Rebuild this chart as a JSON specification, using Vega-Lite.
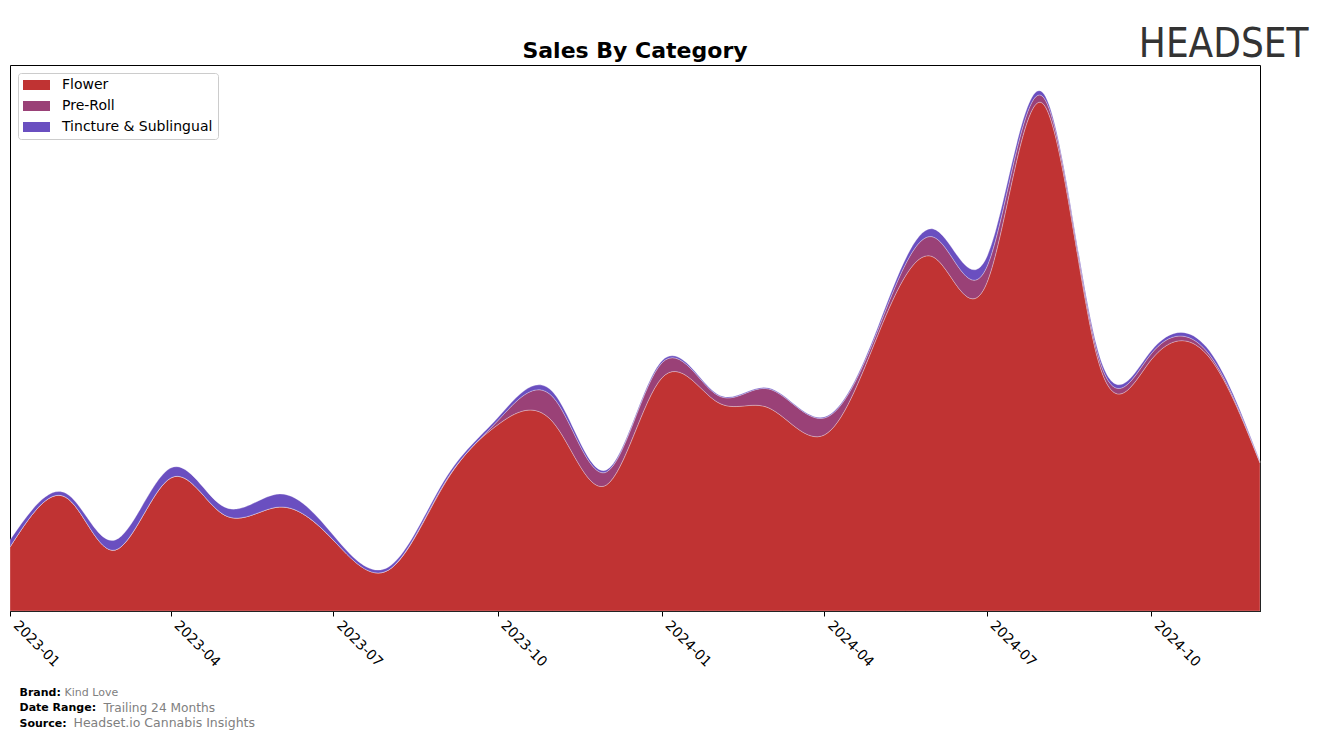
{
  "$schema": "https://vega.github.io/schema/vega-lite/v6.json",
  "autosize": {"type": "none"},
  "width": 1250,
  "height": 546,
  "padding": {"left": 10, "top": 65, "right": 64, "bottom": 128},
  "background": "white",
  "config": {
    "font": "DejaVu Sans",
    "view": {"stroke": "black", "strokeWidth": 1}
  },
  "title": {
    "text": "Sales By Category",
    "fontSize": 22,
    "fontWeight": "bold",
    "font": "DejaVu Sans",
    "anchor": "middle",
    "frame": "group",
    "offset": 8,
    "dy": 47,
    "color": "black"
  },
  "data": {
    "values": [
      {"month": "2023-01-01", "category": "Flower", "sales": 64},
      {"month": "2023-02-01", "category": "Flower", "sales": 114},
      {"month": "2023-03-01", "category": "Flower", "sales": 61},
      {"month": "2023-04-01", "category": "Flower", "sales": 133},
      {"month": "2023-05-01", "category": "Flower", "sales": 96},
      {"month": "2023-06-01", "category": "Flower", "sales": 104},
      {"month": "2023-07-01", "category": "Flower", "sales": 71},
      {"month": "2023-08-01", "category": "Flower", "sales": 41},
      {"month": "2023-09-01", "category": "Flower", "sales": 126},
      {"month": "2023-10-01", "category": "Flower", "sales": 186},
      {"month": "2023-11-01", "category": "Flower", "sales": 189},
      {"month": "2023-12-01", "category": "Flower", "sales": 126},
      {"month": "2024-01-01", "category": "Flower", "sales": 233},
      {"month": "2024-02-01", "category": "Flower", "sales": 209},
      {"month": "2024-03-01", "category": "Flower", "sales": 203},
      {"month": "2024-04-01", "category": "Flower", "sales": 176},
      {"month": "2024-05-01", "category": "Flower", "sales": 276},
      {"month": "2024-06-01", "category": "Flower", "sales": 354},
      {"month": "2024-07-01", "category": "Flower", "sales": 328},
      {"month": "2024-08-01", "category": "Flower", "sales": 508},
      {"month": "2024-09-01", "category": "Flower", "sales": 253},
      {"month": "2024-10-01", "category": "Flower", "sales": 251},
      {"month": "2024-11-01", "category": "Flower", "sales": 257},
      {"month": "2024-12-01", "category": "Flower", "sales": 148},

      {"month": "2023-01-01", "category": "Pre-Roll", "sales": 0},
      {"month": "2023-02-01", "category": "Pre-Roll", "sales": 0},
      {"month": "2023-03-01", "category": "Pre-Roll", "sales": 0},
      {"month": "2023-04-01", "category": "Pre-Roll", "sales": 0},
      {"month": "2023-05-01", "category": "Pre-Roll", "sales": 0},
      {"month": "2023-06-01", "category": "Pre-Roll", "sales": 0},
      {"month": "2023-07-01", "category": "Pre-Roll", "sales": 0},
      {"month": "2023-08-01", "category": "Pre-Roll", "sales": 0},
      {"month": "2023-09-01", "category": "Pre-Roll", "sales": 1},
      {"month": "2023-10-01", "category": "Pre-Roll", "sales": 4},
      {"month": "2023-11-01", "category": "Pre-Roll", "sales": 25},
      {"month": "2023-12-01", "category": "Pre-Roll", "sales": 13},
      {"month": "2024-01-01", "category": "Pre-Roll", "sales": 15},
      {"month": "2024-02-01", "category": "Pre-Roll", "sales": 7},
      {"month": "2024-03-01", "category": "Pre-Roll", "sales": 19},
      {"month": "2024-04-01", "category": "Pre-Roll", "sales": 17},
      {"month": "2024-05-01", "category": "Pre-Roll", "sales": 5},
      {"month": "2024-06-01", "category": "Pre-Roll", "sales": 20},
      {"month": "2024-07-01", "category": "Pre-Roll", "sales": 16},
      {"month": "2024-08-01", "category": "Pre-Roll", "sales": 7},
      {"month": "2024-09-01", "category": "Pre-Roll", "sales": 5},
      {"month": "2024-10-01", "category": "Pre-Roll", "sales": 6},
      {"month": "2024-11-01", "category": "Pre-Roll", "sales": 3},
      {"month": "2024-12-01", "category": "Pre-Roll", "sales": 1},

      {"month": "2023-01-01", "category": "Tincture & Sublingual", "sales": 7},
      {"month": "2023-02-01", "category": "Tincture & Sublingual", "sales": 4},
      {"month": "2023-03-01", "category": "Tincture & Sublingual", "sales": 10},
      {"month": "2023-04-01", "category": "Tincture & Sublingual", "sales": 10},
      {"month": "2023-05-01", "category": "Tincture & Sublingual", "sales": 8},
      {"month": "2023-06-01", "category": "Tincture & Sublingual", "sales": 13},
      {"month": "2023-07-01", "category": "Tincture & Sublingual", "sales": 5},
      {"month": "2023-08-01", "category": "Tincture & Sublingual", "sales": 3},
      {"month": "2023-09-01", "category": "Tincture & Sublingual", "sales": 3},
      {"month": "2023-10-01", "category": "Tincture & Sublingual", "sales": 3},
      {"month": "2023-11-01", "category": "Tincture & Sublingual", "sales": 5},
      {"month": "2023-12-01", "category": "Tincture & Sublingual", "sales": 2},
      {"month": "2024-01-01", "category": "Tincture & Sublingual", "sales": 2},
      {"month": "2024-02-01", "category": "Tincture & Sublingual", "sales": 1},
      {"month": "2024-03-01", "category": "Tincture & Sublingual", "sales": 1},
      {"month": "2024-04-01", "category": "Tincture & Sublingual", "sales": 1},
      {"month": "2024-05-01", "category": "Tincture & Sublingual", "sales": 3},
      {"month": "2024-06-01", "category": "Tincture & Sublingual", "sales": 8},
      {"month": "2024-07-01", "category": "Tincture & Sublingual", "sales": 10},
      {"month": "2024-08-01", "category": "Tincture & Sublingual", "sales": 4},
      {"month": "2024-09-01", "category": "Tincture & Sublingual", "sales": 4},
      {"month": "2024-10-01", "category": "Tincture & Sublingual", "sales": 3},
      {"month": "2024-11-01", "category": "Tincture & Sublingual", "sales": 4},
      {"month": "2024-12-01", "category": "Tincture & Sublingual", "sales": 1}
    ]
  },
  "layer": [
    {
      "mark": {
        "type": "area",
        "interpolate": "natural",
        "stroke": "#ffffff",
        "strokeOpacity": 0.35,
        "strokeWidth": 0.8
      },
      "encoding": {
        "x": {
          "field": "month",
          "type": "temporal",
          "scale": {"domain": ["2023-01-01", "2024-12-01"], "nice": false},
          "axis": {
            "orient": "bottom",
            "values": ["2023-01-01", "2023-04-01", "2023-07-01", "2023-10-01", "2024-01-01", "2024-04-01", "2024-07-01", "2024-10-01"],
            "labelExpr": "utcFormat(datum.value, '%Y-%m')",
            "labelAngle": 45,
            "labelAlign": "left",
            "labelBaseline": "top",
            "labelFontSize": 14,
            "labelColor": "black",
            "labelPadding": 2,
            "labelOffset": 10,
            "labelFlush": false,
            "labelOverlap": false,
            "tickColor": "black",
            "tickSize": 5,
            "domainColor": "black",
            "grid": false,
            "title": ["Brand:", "Date Range:", "Source:"],
            "titleAnchor": "start",
            "titleAlign": "left",
            "titleBaseline": "alphabetic",
            "titleX": 9,
            "titleY": 84,
            "titleFontSize": 11,
            "titleFontWeight": "bold",
            "titleColor": "black",
            "titleLineHeight": 15.5
          }
        },
        "y": {
          "field": "sales",
          "type": "quantitative",
          "stack": "zero",
          "scale": {"domain": [0, 546], "nice": false},
          "axis": {
            "orient": "right",
            "labels": false,
            "ticks": false,
            "domain": false,
            "grid": false,
            "title": "HEADSET",
            "titleAngle": 0,
            "titleFontSize": 40,
            "titleFontWeight": "normal",
            "titleFont": "DejaVu Sans Condensed",
            "titleColor": "#333333",
            "titleAlign": "right",
            "titleBaseline": "alphabetic",
            "titleX": 48,
            "titleY": -9
          }
        },
        "color": {
          "field": "category",
          "type": "nominal",
          "sort": ["Flower", "Pre-Roll", "Tincture & Sublingual"],
          "scale": {
            "domain": ["Flower", "Pre-Roll", "Tincture & Sublingual"],
            "range": ["#C03333", "#9A4177", "#6A4FC0"]
          },
          "legend": {
            "title": null,
            "orient": "top-left",
            "offset": 8,
            "fillColor": "white",
            "strokeColor": "#cccccc",
            "cornerRadius": 3,
            "padding": 5,
            "labelFontSize": 14,
            "labelColor": "black",
            "symbolType": "M-1,-0.714H2.86V0.714H-1Z",
            "symbolSize": 196,
            "symbolStrokeWidth": 0,
            "symbolOpacity": 1,
            "rowPadding": 7,
            "labelOffset": 25
          }
        },
        "order": {"field": "category", "sort": "ascending"}
      }
    },
    {
      "transform": [{"filter": "false"}],
      "mark": {"type": "point"},
      "encoding": {
        "x": {
          "field": "month",
          "type": "temporal",
          "axis": {
            "orient": "top",
            "labels": false,
            "ticks": false,
            "domain": false,
            "grid": false,
            "title": "Trailing 24 Months",
            "titleAnchor": "start",
            "titleAlign": "left",
            "titleBaseline": "alphabetic",
            "titleX": 93,
            "titleY": 646,
            "titleFontSize": 12.2,
            "titleFontWeight": "normal",
            "titleColor": "#808080"
          }
        },
        "y": {
          "field": "sales",
          "type": "quantitative",
          "axis": {
            "orient": "left",
            "labels": false,
            "ticks": false,
            "domain": false,
            "grid": false,
            "title": "Kind Love",
            "titleAngle": 0,
            "titleAlign": "left",
            "titleBaseline": "alphabetic",
            "titleX": 54,
            "titleY": 630,
            "titleFontSize": 11,
            "titleFontWeight": "normal",
            "titleColor": "#808080"
          }
        }
      }
    },
    {
      "transform": [{"filter": "false"}],
      "mark": {"type": "point"},
      "encoding": {
        "y": {
          "field": "sales",
          "type": "quantitative",
          "axis": {
            "orient": "right",
            "labels": false,
            "ticks": false,
            "domain": false,
            "grid": false,
            "title": "Headset.io Cannabis Insights",
            "titleAngle": 0,
            "titleAlign": "left",
            "titleBaseline": "alphabetic",
            "titleX": -1187,
            "titleY": 661,
            "titleFontSize": 12.5,
            "titleFontWeight": "normal",
            "titleColor": "#808080"
          }
        }
      }
    }
  ],
  "resolve": {"axis": {"x": "independent", "y": "independent"}}
}
